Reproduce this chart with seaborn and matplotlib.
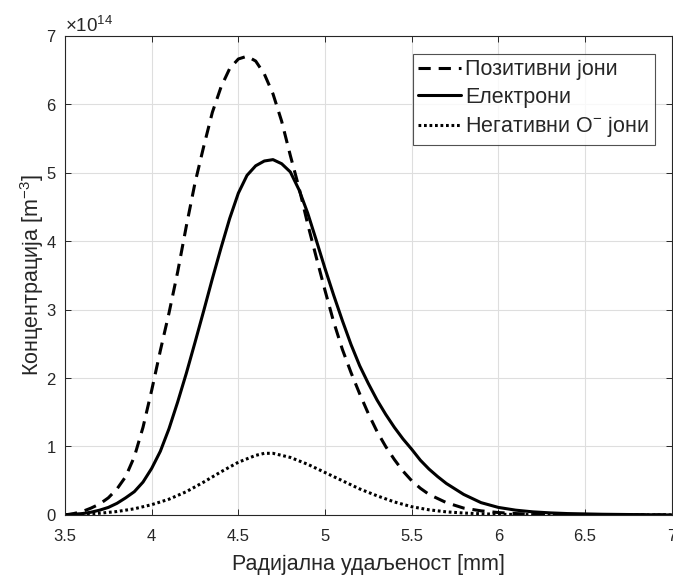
import pandas as pd
import matplotlib
matplotlib.use('Agg')
import matplotlib.pyplot as plt
import matplotlib.ticker as mticker
import seaborn as sns

# podaci ocitani sa slike (koncentracija u jedinicama 1e14 m^-3)
x_poz = [3.5, 3.55, 3.6, 3.65, 3.7, 3.75, 3.8, 3.85, 3.9, 3.95, 4.0, 4.05, 4.1, 4.15,
         4.2, 4.25, 4.3, 4.35, 4.4, 4.45, 4.5, 4.55, 4.6, 4.65, 4.7, 4.75, 4.8,
         4.85, 4.9, 4.95, 5.0, 5.05, 5.1, 5.15, 5.2, 5.25, 5.3, 5.35, 5.4, 5.45,
         5.5, 5.55, 5.6, 5.7, 5.8, 5.9, 6.0, 6.1, 6.2, 6.4, 6.6, 7.0]
poz_joni = [0.0, 0.02, 0.05, 0.10, 0.16, 0.25, 0.38, 0.56, 0.85, 1.28, 1.82, 2.40, 2.95,
            3.55, 4.22, 4.85, 5.38, 5.88, 6.25, 6.52, 6.66, 6.70, 6.63, 6.44, 6.15,
            5.75, 5.25, 4.78, 4.25, 3.76, 3.28, 2.82, 2.42, 2.08, 1.77, 1.48, 1.22,
            1.00, 0.81, 0.64, 0.50, 0.39, 0.30, 0.18, 0.10, 0.06, 0.035, 0.02, 0.01,
            0.003, 0.0, 0.0]

x_el = [3.5, 3.55, 3.6, 3.65, 3.7, 3.75, 3.8, 3.85, 3.9, 3.95, 4.0, 4.05, 4.1, 4.15,
        4.2, 4.25, 4.3, 4.35, 4.4, 4.45, 4.5, 4.55, 4.6, 4.65, 4.7, 4.75, 4.8,
        4.85, 4.9, 4.95, 5.0, 5.05, 5.1, 5.15, 5.2, 5.25, 5.3, 5.35, 5.4, 5.45,
        5.5, 5.55, 5.6, 5.65, 5.7, 5.8, 5.9, 6.0, 6.1, 6.2, 6.3, 6.4, 6.6, 6.8, 7.0]
elektroni = [0.0, 0.01, 0.02, 0.04, 0.07, 0.11, 0.17, 0.25, 0.34, 0.48, 0.68, 0.93, 1.26,
             1.65, 2.07, 2.52, 2.98, 3.45, 3.90, 4.33, 4.70, 4.96, 5.10, 5.17, 5.19,
             5.13, 5.01, 4.75, 4.41, 4.01, 3.60, 3.21, 2.84, 2.49, 2.18, 1.92, 1.68,
             1.47, 1.28, 1.11, 0.96, 0.80, 0.67, 0.56, 0.46, 0.30, 0.18, 0.11, 0.07,
             0.045, 0.03, 0.02, 0.01, 0.005, 0.0]

x_neg = [3.5, 3.6, 3.7, 3.8, 3.9, 4.0, 4.1, 4.2, 4.3, 4.4, 4.5, 4.6, 4.65, 4.7, 4.8,
         4.9, 5.0, 5.1, 5.2, 5.3, 5.4, 5.5, 5.6, 5.7, 5.8, 5.9, 6.0, 6.2, 6.5, 7.0]
neg_joni = [0.0, 0.01, 0.025, 0.05, 0.09, 0.15, 0.23, 0.34, 0.48, 0.63, 0.77, 0.87, 0.9,
            0.9, 0.84, 0.74, 0.62, 0.50, 0.38, 0.28, 0.19, 0.12, 0.075, 0.045, 0.028,
            0.017, 0.01, 0.004, 0.001, 0.0]

sns.set_theme(style='ticks')
plt.rcParams['font.family'] = ['Liberation Sans', 'DejaVu Sans']
plt.rcParams['mathtext.fontset'] = 'custom'
plt.rcParams['mathtext.rm'] = 'Liberation Sans'
plt.rcParams['mathtext.it'] = 'Liberation Sans'

fig = plt.figure(figsize=(6.73, 5.76), dpi=100)
ax = fig.add_axes([0.0966, 0.106, 0.9014, 0.832])

serije = [
    (x_poz, poz_joni, 'Позитивни јони', (0, (4, 2.6))),
    (x_el, elektroni, 'Електрони', '-'),
    (x_neg, neg_joni, 'Негативни O$^{-}$ јони', (0, (0.9, 0.9))),
]
for xs, ys, ime, ls in serije:
    df = pd.DataFrame({'x': xs, 'y': [v * 1e14 for v in ys]})
    sns.lineplot(data=df, x='x', y='y', ax=ax, color='black', lw=2.2,
                 linestyle=ls, label=ime, solid_joinstyle='round')

ax.set_xlim(3.5, 7)
ax.set_ylim(0, 7e14)
ax.set_xticks([3.5, 4, 4.5, 5, 5.5, 6, 6.5, 7])
ax.set_xticklabels(['3.5', '4', '4.5', '5', '5.5', '6', '6.5', '7'])
ax.set_yticks([i * 1e14 for i in range(8)])
fmt = mticker.ScalarFormatter(useMathText=True)
fmt.set_powerlimits((0, 0))
ax.yaxis.set_major_formatter(fmt)
ax.yaxis.get_offset_text().set_fontsize(13.5)
ax.yaxis.get_offset_text().set_color('#262626')

ax.grid(True, color='#dedede', lw=0.8)
for s in ax.spines.values():
    s.set_color('#262626')
    s.set_linewidth(0.8)
ax.tick_params(direction='in', top=True, right=True, labelsize=12,
               colors='#262626', length=4, width=0.7)
ax.tick_params(axis='x', pad=10)
ax.tick_params(axis='y', pad=6)

ax.set_xlabel('Радијална удаљеност [mm]', fontsize=15.5, color='#262626', labelpad=7)
ax.set_ylabel('Концентрација [m$^{-3}$]', fontsize=15.5, color='#262626', labelpad=0)

leg = ax.legend(loc='upper right', bbox_to_anchor=(0.972, 0.962), fontsize=15.5,
                frameon=True, fancybox=False, edgecolor='#262626',
                handlelength=2.0, handletextpad=0.2, borderpad=0.25,
                labelspacing=0.3, borderaxespad=0)
leg.get_frame().set_linewidth(0.8)

fig.savefig('out.png', dpi=100)
